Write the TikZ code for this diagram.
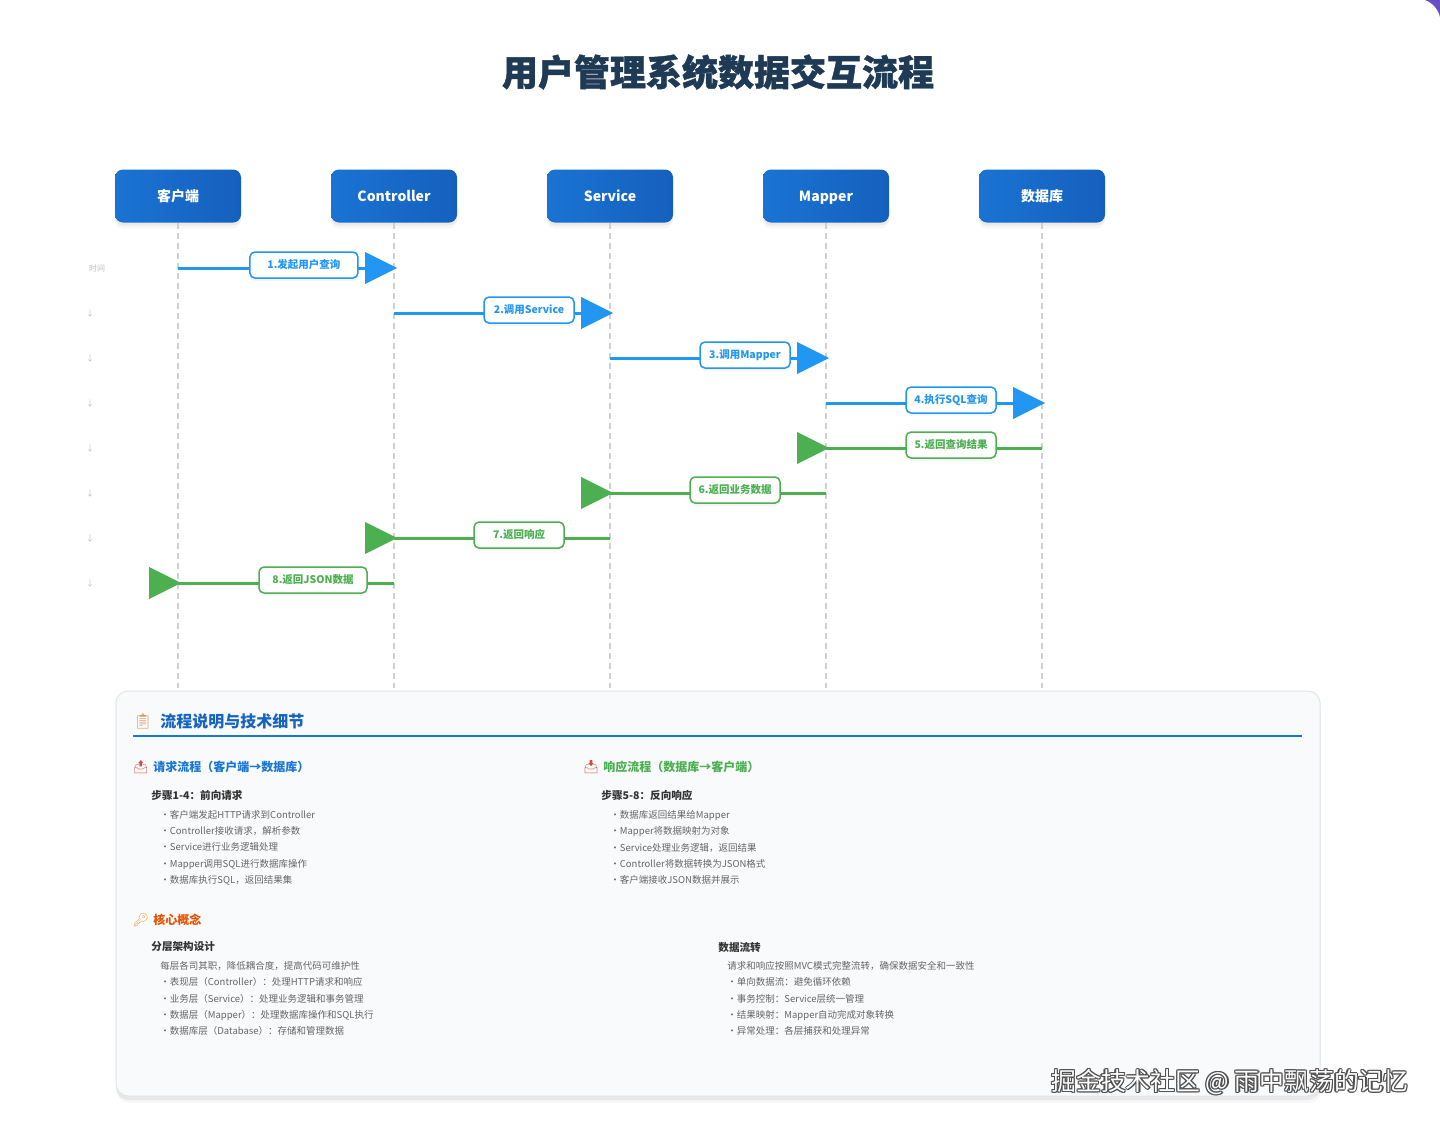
\documentclass[tikz,border=0pt]{standalone}
\usepackage{fontspec}
\setmainfont{Noto Sans CJK SC}
\newfontfamily\titlefont{Noto Sans CJK SC}[BoldFeatures={FakeBold=1.2}]
\newfontfamily\emo{Noto Emoji}
\usetikzlibrary{positioning,shapes.geometric}
\definecolor{titleblue}{HTML}{1F3A54}
\definecolor{actorA}{HTML}{1A73D4}
\definecolor{actorB}{HTML}{1560BD}
\definecolor{reqblue}{HTML}{2196F3}
\definecolor{retgreen}{HTML}{4CAF50}
\definecolor{lifegray}{HTML}{CFCFCF}
\definecolor{tickgray}{HTML}{BDBDBD}
\definecolor{panelbg}{HTML}{F8FAFC}
\definecolor{panelline}{HTML}{E2E4E8}
\definecolor{headblue}{HTML}{1565C0}
\definecolor{subblue}{HTML}{1976D2}
\definecolor{coreorange}{HTML}{E65100}
\definecolor{darktext}{HTML}{333333}
\definecolor{listgray}{HTML}{666666}
\definecolor{clipcol}{HTML}{D9955A}
\definecolor{traycol}{HTML}{C8503F}
\definecolor{keycol}{HTML}{E8A33D}
\definecolor{wmgray}{HTML}{505050}
\definecolor{cornerpurple}{HTML}{6A4FC4}
\begin{document}
\begin{tikzpicture}[x=0.5pt,y=-0.5pt,
  node distance=45pt,
  soft/.style={preaction={fill=black, opacity=0.05, transform canvas={yshift=-1.5pt}},
    preaction={fill=black, opacity=0.03, transform canvas={yshift=-3pt}}},
  actor/.style={soft, rounded corners=4pt, left color=actorA, right color=actorB,
    minimum width=63pt, minimum height=26.5pt, outer sep=0pt, text=white,
    text height=7pt, text depth=1.6pt, font=\fontsize{7}{8}\selectfont\bfseries},
  life/.style={draw=lifegray, line width=0.75pt, dash pattern=on 3pt off 2pt},
  req/.style={draw=reqblue, line width=1.5pt},
  ret/.style={draw=retgreen, line width=1.5pt},
  head/.style={isosceles triangle, isosceles triangle apex angle=53.13,
    minimum width=16pt, minimum height=16pt, inner sep=0pt, anchor=apex, xshift=2pt},
  lbl/.style={preaction={fill=black, opacity=0.04, transform canvas={yshift=-1.5pt}},
    fill=white, rounded corners=2.5pt, line width=0.75pt,
    minimum width=45pt, minimum height=13pt, inner xsep=3pt, yshift=1.5pt,
    text height=5pt, text depth=1.2pt, font=\fontsize{5.25}{6}\selectfont\bfseries},
  tick/.style={text=tickgray, font=\fontsize{4}{5}\selectfont, inner sep=0pt},
  panel/.style={preaction={fill=black, opacity=0.06, transform canvas={yshift=-2pt}},
    preaction={fill=black, opacity=0.03, transform canvas={yshift=-3.5pt, xshift=0.5pt}},
    rounded corners=6pt, fill=panelbg, draw=panelline, line width=0.5pt,
    minimum width=602pt, minimum height=202.5pt},
  icon/.style={font=\emo\fontsize{6.5}{7}\selectfont, inner sep=0pt},
  sect/.style={anchor=west, inner sep=0pt, font=\fontsize{6}{7}\selectfont\bfseries},
  sub/.style={anchor=west, inner sep=0pt, text=darktext, font=\fontsize{5.3}{6}\selectfont\bfseries},
  list/.style={anchor=west, inner sep=0pt, align=left, text=listgray, font=\fontsize{4.75}{8.15}\selectfont},
  wm/.style={inner sep=0pt, font=\fontsize{12.4}{14}\selectfont}
]
\useasboundingbox (0,0) rectangle (1440,1126);
\fill[white] (0,0) rectangle (1440,1126);
\fill[cornerpurple] (1425,0) .. controls (1433,3) and (1438,9) .. (1440,17) -- (1440,0) -- cycle;

\node[text=titleblue, font=\titlefont\fontsize{18}{22}\selectfont\bfseries] (title) at (718,72) {用户管理系统数据交互流程};

\node[actor] (cl) at (178,196) {客户端};
\node[actor, right=of cl] (ct) {Controller};
\node[actor, right=of ct] (sv) {Service};
\node[actor, right=of sv] (mp) {Mapper};
\node[actor, right=of mp] (db) {数据库};

\coordinate (bot) at (0,688);
\draw[life] (cl.south) -- (cl |- bot);
\draw[life] (ct.south) -- (ct |- bot);
\draw[life] (sv.south) -- (sv |- bot);
\draw[life] (mp.south) -- (mp |- bot);
\draw[life] (db.south) -- (db |- bot);

\node[tick] (t1) at (97,268) {时间};
\node[tick] (t2) at (90,313) {↓};
\node[tick] (t3) at (90,358) {↓};
\node[tick] (t4) at (90,403) {↓};
\node[tick] (t5) at (90,448) {↓};
\node[tick] (t6) at (90,493) {↓};
\node[tick] (t7) at (90,538) {↓};
\node[tick] (t8) at (90,583) {↓};

\draw[req] (cl |- t1) -- (ct |- t1);
\node[head, fill=reqblue] (h1) at (ct |- t1) {};
\path (cl |- t1) -- (ct |- t1) node[lbl, draw=reqblue, text=reqblue, pos=0.583, minimum width=54pt] (m1) {1.发起用户查询};
\draw[req] (ct |- t2) -- (sv |- t2);
\node[head, fill=reqblue] (h2) at (sv |- t2) {};
\path (ct |- t2) -- (sv |- t2) node[lbl, draw=reqblue, text=reqblue, pos=0.625] (m2) {2.调用Service};
\draw[req] (sv |- t3) -- (mp |- t3);
\node[head, fill=reqblue] (h3) at (mp |- t3) {};
\path (sv |- t3) -- (mp |- t3) node[lbl, draw=reqblue, text=reqblue, pos=0.625] (m3) {3.调用Mapper};
\draw[req] (mp |- t4) -- (db |- t4);
\node[head, fill=reqblue] (h4) at (db |- t4) {};
\path (mp |- t4) -- (db |- t4) node[lbl, draw=reqblue, text=reqblue, pos=0.579] (m4) {4.执行SQL查询};

\draw[ret] (db |- t5) -- (mp |- t5);
\node[head, fill=retgreen] (h5) at (mp |- t5) {};
\path (db |- t5) -- (mp |- t5) node[lbl, draw=retgreen, text=retgreen, pos=0.421] (m5) {5.返回查询结果};
\draw[ret] (mp |- t6) -- (sv |- t6);
\node[head, fill=retgreen] (h6) at (sv |- t6) {};
\path (mp |- t6) -- (sv |- t6) node[lbl, draw=retgreen, text=retgreen, pos=0.421] (m6) {6.返回业务数据};
\draw[ret] (sv |- t7) -- (ct |- t7);
\node[head, fill=retgreen] (h7) at (ct |- t7) {};
\path (sv |- t7) -- (ct |- t7) node[lbl, draw=retgreen, text=retgreen, pos=0.421] (m7) {7.返回响应};
\draw[ret] (ct |- t8) -- (cl |- t8);
\node[head, fill=retgreen] (h8) at (cl |- t8) {};
\path (ct |- t8) -- (cl |- t8) node[lbl, draw=retgreen, text=retgreen, pos=0.375, minimum width=54pt] (m8) {8.返回JSON数据};

\node[panel] (pn) at (718,893.5) {};
\node[icon, text=clipcol, font=\emo\fontsize{7.5}{8}\selectfont] (ic1) at (143,721) {📋};
\node[sect, text=headblue, font=\fontsize{8}{9}\selectfont\bfseries] (s0) at (160,721) {流程说明与技术细节};
\draw[subblue, line width=1pt] (133,736) -- (1302,736);

\node[icon, text=traycol] (ic2) at (141,767) {📤};
\node[sect, text=subblue] (s1) at (153,767) {请求流程（客户端→数据库）};
\node[sub] (p1) at (151,795) {步骤1-4：前向请求};
\node[list] (l1) at (160,847.6) {•客户端发起HTTP请求到Controller\\•Controller接收请求，解析参数\\•Service进行业务逻辑处理\\•Mapper调用SQL进行数据库操作\\•数据库执行SQL，返回结果集};

\node[icon, text=traycol] (ic3) at (591,767) {📥};
\node[sect, text=retgreen] (s2) at (603,767) {响应流程（数据库→客户端）};
\node[sub] (p2) at (601,795) {步骤5-8：反向响应};
\node[list] (l2) at (610,847.6) {•数据库返回结果给Mapper\\•Mapper将数据映射为对象\\•Service处理业务逻辑，返回结果\\•Controller将数据转换为JSON格式\\•客户端接收JSON数据并展示};

\node[icon, text=keycol] (ic4) at (141,920) {🔑};
\node[sect, text=coreorange] (s3) at (153,920) {核心概念};
\node[sub] (p3) at (151,947) {分层架构设计};
\node[list] (l3) at (160,998.6) {每层各司其职，降低耦合度，提高代码可维护性\\•表现层（Controller）：处理HTTP请求和响应\\•业务层（Service）：处理业务逻辑和事务管理\\•数据层（Mapper）：处理数据库操作和SQL执行\\•数据库层（Database）：存储和管理数据};
\node[sub] (p4) at (718,947) {数据流转};
\node[list] (l4) at (727,998.6) {请求和响应按照MVC模式完整流转，确保数据安全和一致性\\•单向数据流：避免循环依赖\\•事务控制：Service层统一管理\\•结果映射：Mapper自动完成对象转换\\•异常处理：各层捕获和处理异常};

\foreach \dx/\dy [count=\i] in {0.6/0,-0.6/0,0/0.6,0/-0.6,0.45/0.45,-0.45/0.45,0.45/-0.45,-0.45/-0.45}
  \node[wm, text=wmgray, xshift=\dx pt, yshift=\dy pt] (wm\i) at (1230,1082) {掘金技术社区 @ 雨中飘荡的记忆};
\node[wm, text=white] (wm) at (1230,1082) {掘金技术社区 @ 雨中飘荡的记忆};
\end{tikzpicture}
\end{document}
